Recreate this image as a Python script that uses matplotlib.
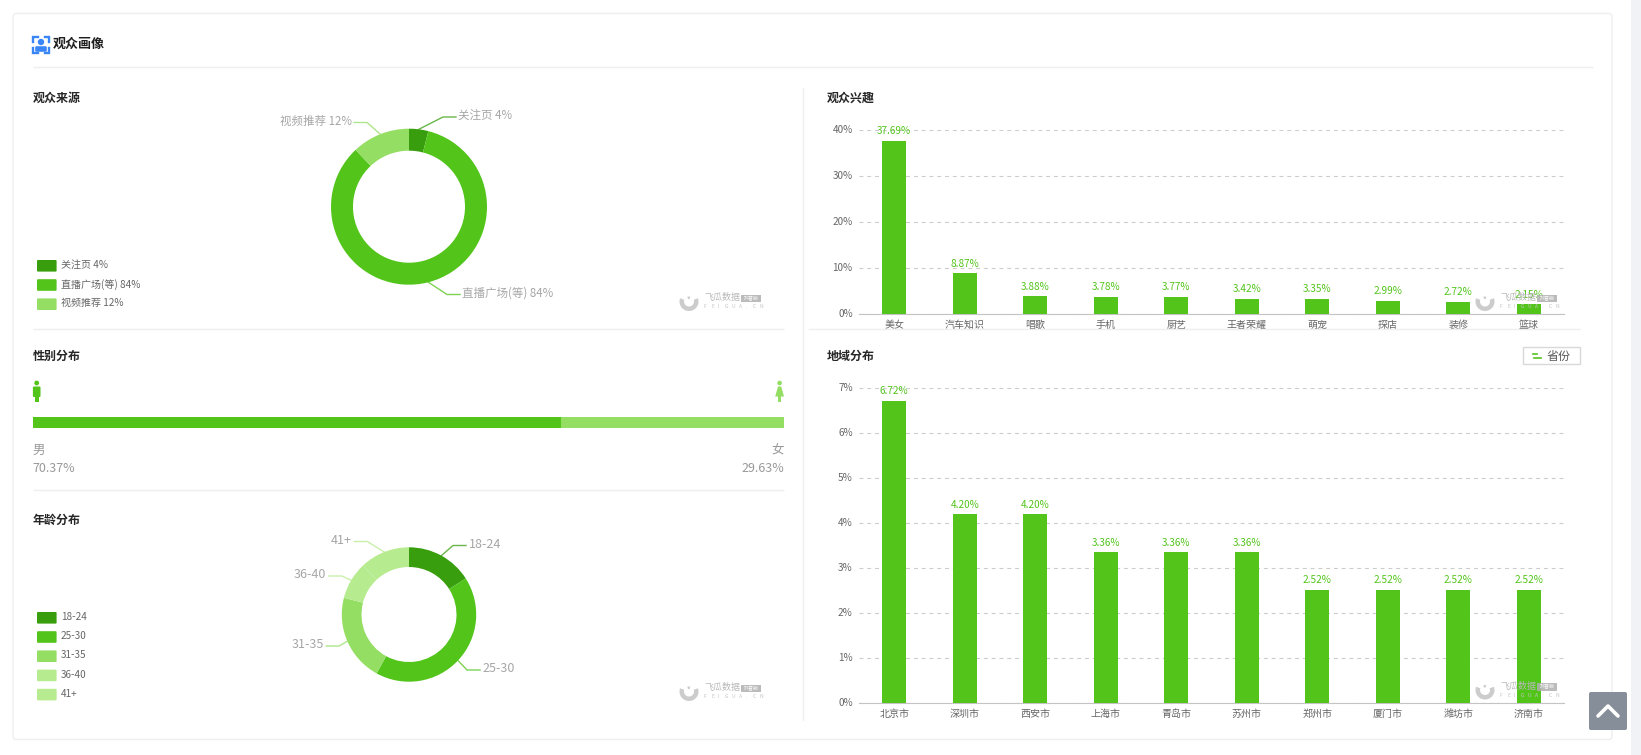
# -*- coding: utf-8 -*-
""" Audience profile dashboard: two donuts, a gender bar and two bar charts """

import math
import matplotlib
matplotlib.use("Agg")
import matplotlib.pyplot as plt
from matplotlib.patches import Circle, FancyBboxPatch, Polygon, Rectangle, Wedge
from matplotlib.transforms import ScaledTranslation

plt.rcParams['font.family'] = ['Noto Sans CJK SC', 'DejaVu Sans']

W, H = 1641, 755
PX = 0.72  # font size in points for 1 pixel at dpi 100

# data
sourceNames = ["关注页", "直播广场(等)", "视频推荐"]
sourceValues = [4, 84, 12]
ageNames = ["18-24", "25-30", "31-35", "36-40", "41+"]
ageValues = [16, 42, 21, 9, 12]
genderNames = ["男", "女"]
genderValues = [70.37, 29.63]
interestNames = ["美女", "汽车知识", "唱歌", "手机", "厨艺", "王者荣耀", "萌宠", "探店", "装修", "篮球"]
interestValues = [37.69, 8.87, 3.88, 3.78, 3.77, 3.42, 3.35, 2.99, 2.72, 2.15]
interestTicks = [0, 10, 20, 30, 40]
cityNames = ["北京市", "深圳市", "西安市", "上海市", "青岛市", "苏州市", "郑州市", "厦门市", "潍坊市", "济南市"]
cityValues = [6.72, 4.20, 4.20, 3.36, 3.36, 3.36, 2.52, 2.52, 2.52, 2.52]
cityTicks = [0, 1, 2, 3, 4, 5, 6, 7]

# colours
DARK = "#389e0d"
MAIN = "#52c41a"
MID = "#95de64"
LIGHT = "#b7eb8f"
LINE = "#efefef"
sourceColors = [DARK, MAIN, MID]
ageColors = [DARK, MAIN, MID, LIGHT, LIGHT]

# label layout of the donuts: elbow of the leader line, in pixels
sourceElbows = [(443, 117), (447, 294.5), (367, 122.5)]
ageElbows = [(453, 545.5), (467, 670), (339.3, 646), (342, 576), (367.3, 541.5)]

fig = plt.figure(figsize=(W / 100, H / 100), dpi=100, facecolor="white")

# page layer in pixel coordinates, above the charts
page = fig.add_axes([0, 0, 1, 1], zorder=10)
page.set_xlim(0, W)
page.set_ylim(H, 0)
page.axis("off")
page.patch.set_alpha(0)


def axesAt(left, top, right, bottom):
    """ Axes placed from pixel coordinates """
    return fig.add_axes([left / W, 1 - bottom / H, (right - left) / W, (bottom - top) / H])


def text(x, y, s, size=12, color="#999999", ha="left", weight="normal"):
    page.text(x, y, s, fontsize=size * PX, color=color, ha=ha, va="center",
              fontweight=weight)


def hline(y, x0, x1):
    page.plot([x0, x1], [y, y], color=LINE, lw=1, solid_capstyle="butt")


def legend(x, y, names, colors):
    """ Column of rounded swatches with their text """
    for i in range(len(names)):
        top = y + i * 19.2
        page.add_patch(FancyBboxPatch((x + 1, top + 1), 17.6, 9.6, boxstyle="round,pad=1",
                                      fc=colors[i], ec="none"))
        text(x + 24, top + 5, names[i], 10, "#666666")


def donut(cx, cy, outer, inner, values, colors, labels, elbows, sides, labelSize):
    """ Donut drawn with pie, leader lines start from the wedge middle """
    ax = axesAt(cx - outer, cy - outer, cx + outer, cy + outer)
    wedges, _ = ax.pie(values, colors=colors, startangle=90, counterclock=False, radius=1,
                       wedgeprops={"width": 1 - inner / outer, "linewidth": 0})
    ax.set_xlim(-1, 1)
    ax.set_ylim(-1, 1)
    for i, w in enumerate(wedges):
        mid = math.radians((w.theta1 + w.theta2) / 2)
        x0 = cx + outer * math.cos(mid)
        y0 = cy - outer * math.sin(mid)
        ex, ey = elbows[i]
        x1 = ex + 13 * sides[i]
        page.plot([x0, ex, x1], [y0, ey, ey], color=colors[i], lw=1, alpha=0.75)
        text(x1 + 2.5 * sides[i], ey - 1.5, labels[i], labelSize, "#a6a6a6",
             ha="left" if sides[i] > 0 else "right")


def barChart(top, bottom, names, values, ticks):
    """ Bar chart with dashed grid and value labels """
    ax = axesAt(859, top, 1564, bottom)
    ax.set_xlim(-0.5, len(names) - 0.5)
    ax.set_ylim(0, ticks[-1])
    bars = ax.bar(range(len(names)), values, width=0.34, color=MAIN, zorder=3)
    ax.bar_label(bars, labels=["%.2f%%" % v for v in values], padding=3.3, color=MAIN,
                 fontsize=10 * PX, zorder=4, clip_on=False)
    ax.set_yticks(ticks)
    ax.set_yticklabels(["%d%%" % t for t in ticks], fontsize=10 * PX, color="#666666")
    ax.set_xticks(range(len(names)))
    ax.set_xticklabels(names, fontsize=10 * PX, color="#666666")
    ax.tick_params(length=0)
    ax.tick_params(axis="y", pad=4.5)
    ax.tick_params(axis="x", pad=4)
    # tick labels sit a little above their grid line
    shift = ScaledTranslation(0, 1.2 / 100, fig.dpi_scale_trans)
    for label in ax.get_yticklabels():
        label.set_transform(label.get_transform() + shift)
    ax.grid(axis="y", color="#cccccc", lw=0.8, linestyle=(0, (3.5, 3.5)), zorder=1)
    ax.set_axisbelow(True)
    for side in ["top", "right", "left"]:
        ax.spines[side].set_visible(False)
    ax.spines["bottom"].set_color("#c4c4c4")
    ax.patch.set_alpha(0)


def watermark(x, y):
    """ Grey logo at the corner of a chart, x and y are the logo centre """
    page.add_patch(Wedge((x, y), 9.5, -20, 200, width=4.5, fc="#c4c4c4", ec="none", alpha=0.85))
    page.add_patch(Wedge((x, y), 5, 250, 285, width=2.5, fc="#c4c4c4", ec="none", alpha=0.85))
    text(x + 15, y - 4, "飞瓜数据", 9, "#b8b8b8")
    page.add_patch(Rectangle((x + 52, y - 7), 20, 7.5, fc="#b0b0b0", ec="none", alpha=0.85))
    page.text(x + 62, y - 3.2, "抖音版", fontsize=5 * PX, color="white", ha="center", va="center")
    for i, c in enumerate("FEIGUA.CN"):
        page.text(x + 15 + i * 7, y + 5.3, c, fontsize=5 * PX, color="#c4c4c4", ha="left", va="center")


# page background and card
page.add_patch(Rectangle((1631, 0), W - 1631, H, fc="#f0f2f5", ec="none"))
page.add_patch(FancyBboxPatch((16, 16.5), 1593, 720, boxstyle="round,pad=3", fc="none", ec=LINE, lw=1))
hline(67.3, 33, 1593)
hline(329, 33, 784)
hline(329, 808, 1580)
hline(490.3, 33, 784)
page.plot([803, 803], [88, 720], color=LINE, lw=1)

# header icon
BLUE = "#3b86f7"
for cx, sx in [(33, 1), (49, -1)]:
    for cy, sy in [(37, 1), (52.5, -1)]:
        page.plot([cx + 4.5 * sx, cx, cx], [cy, cy, cy + 4.5 * sy], color=BLUE, lw=1.7,
                  solid_joinstyle="miter")
page.add_patch(Circle((41, 42), 3.2, fc=BLUE, ec="none"))
page.add_patch(FancyBboxPatch((36.5, 47.5), 9, 3, boxstyle="round,pad=1.3", fc=BLUE, ec="none"))

# titles
text(53, 43.5, "观众画像", 13, "#1f1f1f", weight="bold")
text(33, 98.3, "观众来源", 12, "#262626", weight="bold")
text(827, 98.3, "观众兴趣", 12, "#262626", weight="bold")
text(33, 356.3, "性别分布", 12, "#262626", weight="bold")
text(827, 356.3, "地域分布", 12, "#262626", weight="bold")
text(33, 520.3, "年龄分布", 12, "#262626", weight="bold")

# source donut
sourceLabels = ["%s %d%%" % (n, v) for n, v in zip(sourceNames, sourceValues)]
donut(409, 206.7, 78, 56, sourceValues, sourceColors, sourceLabels, sourceElbows, [1, 1, -1], 11.5)
legend(37, 260, sourceLabels, sourceColors)
watermark(689, 301.5)

# gender bar
genderAx = axesAt(33, 417, 784, 428)
genderAx.barh([0], [genderValues[0]], height=1, color=MAIN)
genderAx.barh([0], [genderValues[1]], left=[genderValues[0]], height=1, color=MID)
genderAx.set_xlim(0, sum(genderValues))
genderAx.set_ylim(-0.5, 0.5)
genderAx.axis("off")
text(32.5, 450, genderNames[0], 12.5)
text(32.5, 468, "%.2f%%" % genderValues[0], 12.5)
text(784, 450, genderNames[1], 12.5, ha="right")
text(784, 468, "%.2f%%" % genderValues[1], 12.5, ha="right")

# gender icons
page.add_patch(Circle((36.7, 383), 2.4, fc=MAIN, ec="none"))
page.add_patch(FancyBboxPatch((33.9, 387.5), 5.6, 8.5, boxstyle="round,pad=1", fc=MAIN, ec="none"))
page.add_patch(Rectangle((34.9, 396), 3.6, 6, fc=MAIN, ec="none"))
page.add_patch(Circle((779.6, 383), 2.3, fc=MID, ec="none"))
page.add_patch(Polygon([(778, 386.5), (781.2, 386.5), (784, 396.5), (775.2, 396.5)], fc=MID, ec="none"))
page.add_patch(Rectangle((778, 396), 3.2, 6, fc=MID, ec="none"))

# age donut
donut(409, 614.5, 67.2, 47.5, ageValues, ageColors, ageNames, ageElbows, [1, 1, -1, -1, -1], 12.5)
legend(37, 612, ageNames, ageColors)
watermark(689, 691.5)

# bar charts
barChart(130, 314.3, interestNames, interestValues, interestTicks)
watermark(1485, 301.5)
barChart(388.3, 703.3, cityNames, cityValues, cityTicks)
watermark(1485, 690)

# province button
page.add_patch(Rectangle((1523, 346.5), 56.5, 17, fc="white", ec="#d9d9d9", lw=1))
page.plot([1533, 1537], [354, 354], color=MAIN, lw=1.2)
page.plot([1534, 1541], [358, 358], color=MAIN, lw=1.2)
text(1547, 356.3, "省份", 12, "#595959")

# back to top button
page.add_patch(FancyBboxPatch((1591, 694), 34, 34, boxstyle="round,pad=2", fc="#858e99", ec="none"))
page.plot([1598, 1608, 1618], [716, 706, 716], color="white", lw=2.6, solid_capstyle="round")

fig.savefig("out.png", dpi=100)
